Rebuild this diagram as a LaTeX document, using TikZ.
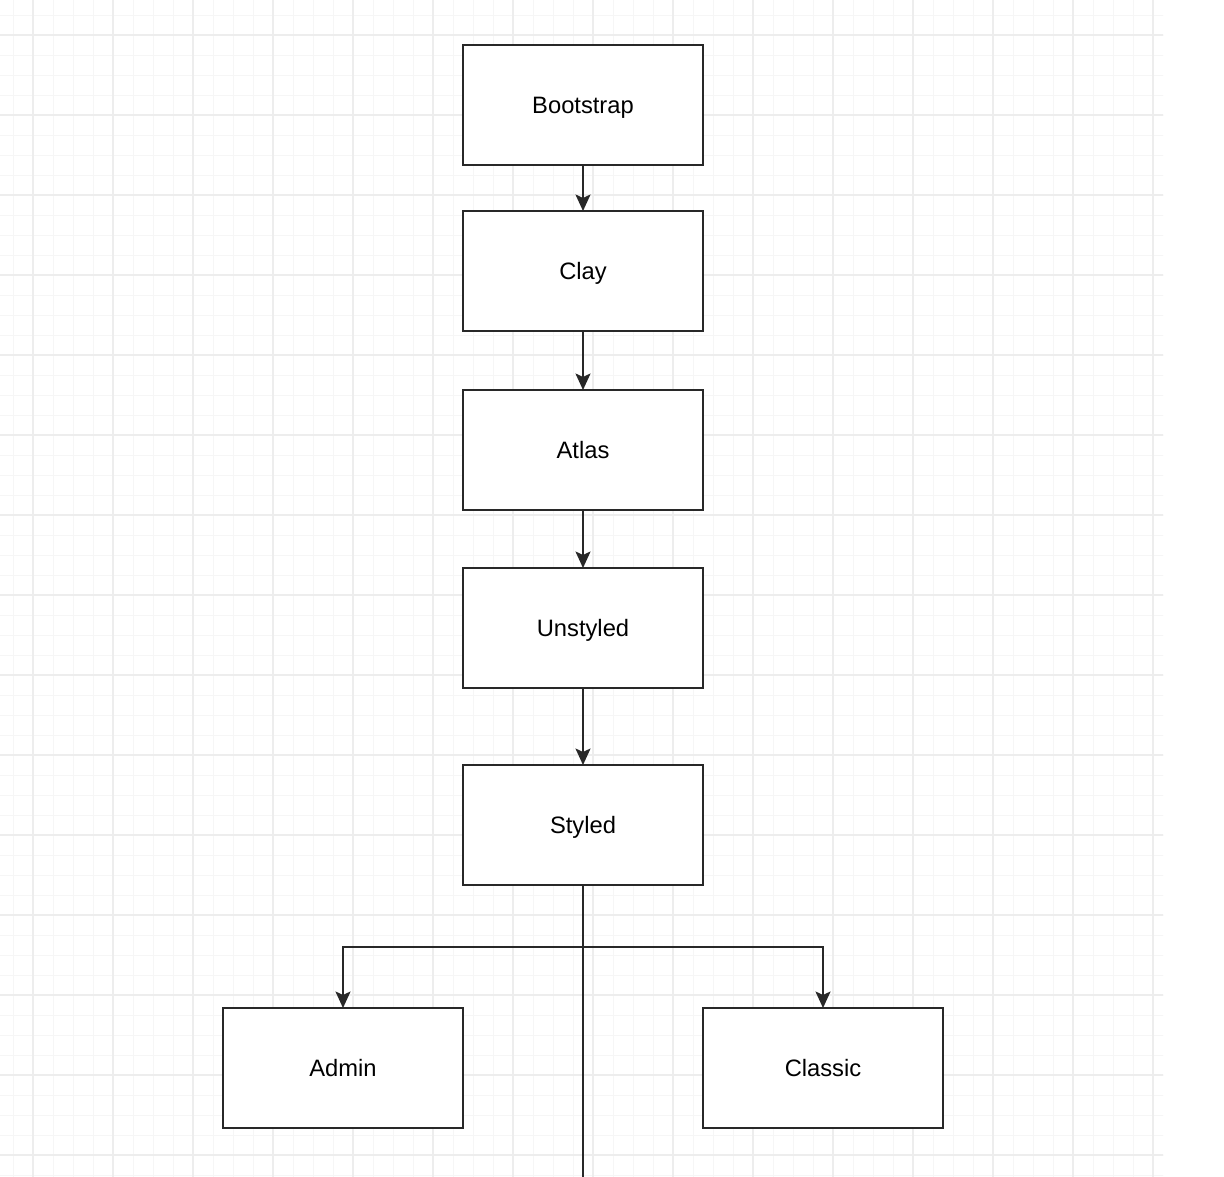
\documentclass[tikz,border=0pt]{standalone}
\usepackage{fontspec}
\setmainfont{Liberation Sans}
\definecolor{gridminor}{RGB}{246, 246, 246}
\definecolor{gridmajor}{RGB}{237, 237, 237}
\definecolor{boxline}{RGB}{40, 40, 40}
\usetikzlibrary{arrows.meta, positioning}

\begin{document}
\begin{tikzpicture}[
        layer/.style={
            draw=boxline,
            line width=1.1pt,
            fill=white,
            outer sep=0pt,
            minimum width=4.8cm,
            minimum height=2.4cm,
            text height=1.9ex,
            text depth=0ex,
            align=center,
            font=\fontsize{13.5}{16}\selectfont
        },
        link/.style={line width=1.1pt, boxline},
        arr/.style={-{Stealth[length=3.3mm, width=3mm, inset=0.7mm]}, link}
    ]
        % Canvas and grid
        \useasboundingbox (0,0) rectangle (24.48,-23.52);
        \fill[white] (0,0) rectangle (24.48,-23.52);
        \begin{scope}
            \clip (0,0) rectangle (23.26,-23.52);
            \draw[gridminor, line width=0.5pt, shift={(0.26,-0.3)}] (-0.4,0.4) grid[step=0.4] (23.2,-23.6);
            \draw[gridmajor, line width=0.6pt, shift={(0.66,-0.7)}] (-1.6,1.6) grid[step=1.6] (23.2,-24);
        \end{scope}
        % Layers
        \node[layer] (bootstrap) at (11.66, -2.1) {Bootstrap};
        \node[layer, below=0.92cm of bootstrap] (clay) {Clay};
        \node[layer, below=1.18cm of clay] (atlas) {Atlas};
        \node[layer, below=1.16cm of atlas] (unstyled) {Unstyled};
        \node[layer, below=1.54cm of unstyled] (styled) {Styled};
        % Themes
        \node[layer, below left=2.46cm and 0cm of styled] (admin) {Admin};
        \node[layer, below right=2.46cm and 0cm of styled] (classic) {Classic};
        \coordinate (trunk) at (11.66, -23.6);
        % Arrows
        \draw[arr] (bootstrap) -- (clay);
        \draw[arr] (clay) -- (atlas);
        \draw[arr] (atlas) -- (unstyled);
        \draw[arr] (unstyled) -- (styled);
        \draw[arr] (styled.south) -- ++(0,-1.24) -| (admin.north);
        \draw[arr] (styled.south) -- ++(0,-1.24) -| (classic.north);
        \draw[link] (styled.south) -- (trunk);
    \end{tikzpicture}
\end{document}
